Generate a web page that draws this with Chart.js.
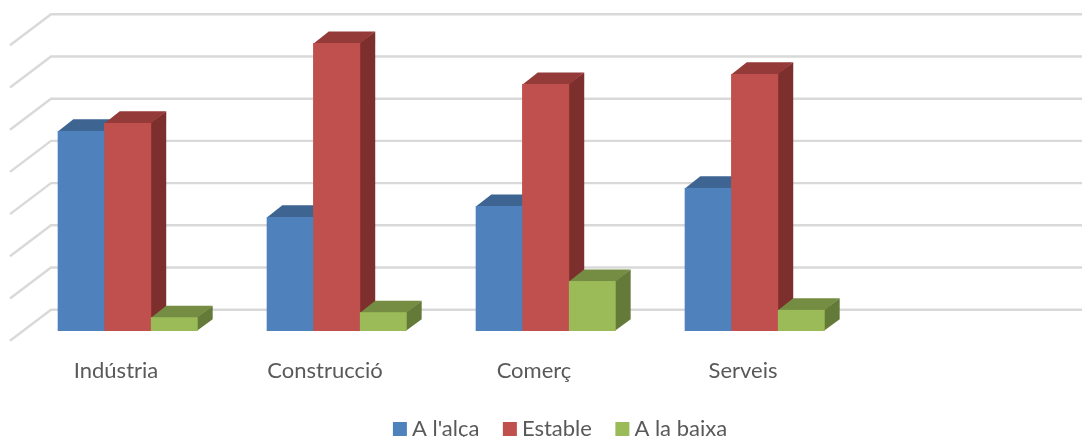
<!DOCTYPE html>
<html><head><meta charset="utf-8">
<style>html,body{margin:0;padding:0;background:#fff;overflow:hidden}canvas{display:block;filter:blur(0.4px)}</style>
<script src="https://cdn.jsdelivr.net/npm/chart.js@4"></script>
</head><body>
<canvas id="c" width="1082" height="437"></canvas>
<script>
const categories = ["Indústria","Construcció","Comerç","Serveis",""];
const alAlca = [47.4,27.0,29.6,33.9];
const estable = [49.3,68.2,58.5,60.9];
const aLaBaixa = [3.2,4.4,11.8,5.0];
const yTicks = {min:0,max:70,step:10};

const front = ["#4F81BD","#C0504D","#9BBB59"];
const top3d = ["#3E6592","#943A38","#758D43"];
const side3d = ["#355780","#7D2F2D","#647A39"];
const depth = {dx:15.5,dy:-11.7};
const wall = {dx:0,dy:-21.3,x0:51,xSide:10,sideDy:31,color:"#D9D9D9",w:2.4};

const threeD = {
  id:"threeD",
  afterLayout(chart){
    const l = chart.legend;
    l.left += 17.5; l.right += 17.5; l.top += 13; l.bottom += 13;
    chart.scales.x.bottom += 20;
  },
  beforeDatasetsDraw(chart){
    const ctx = chart.ctx, y = chart.scales.y;
    ctx.save();
    ctx.strokeStyle = wall.color; ctx.lineWidth = wall.w;
    y.ticks.forEach(t=>{
      const py = y.getPixelForValue(t.value)+wall.dy;
      ctx.beginPath();
      ctx.moveTo(wall.xSide,py+wall.sideDy);
      ctx.lineTo(wall.x0,py);
      ctx.lineTo(chart.width,py);
      ctx.stroke();
    });
    chart.data.datasets.forEach((ds,i)=>{
      chart.getDatasetMeta(i).data.forEach(b=>{
        const p = b.getProps(["x","y","base","width"],true);
        const l=p.x-p.width/2, r=p.x+p.width/2, t=p.y, bt=p.base;
        ctx.fillStyle = side3d[i];
        ctx.beginPath();
        ctx.moveTo(r-0.5,t);ctx.lineTo(r+depth.dx,t+depth.dy);ctx.lineTo(r+depth.dx,bt+depth.dy);ctx.lineTo(r-0.5,bt);ctx.closePath();ctx.fill();
        ctx.fillStyle = top3d[i];
        ctx.beginPath();
        ctx.moveTo(l,t+0.5);ctx.lineTo(l+depth.dx,t+depth.dy);ctx.lineTo(r+depth.dx,t+depth.dy);ctx.lineTo(r,t+0.5);ctx.closePath();ctx.fill();
        ctx.fillStyle = front[i];
        ctx.fillRect(l,t,p.width+0.5,bt-t);
      });
    });
    ctx.restore();
  }
};

new Chart(document.getElementById("c"),{
  type:"bar",
  data:{labels:categories,datasets:[
    {label:"A l'alça",data:alAlca,backgroundColor:front[0]},
    {label:"Estable",data:estable,backgroundColor:front[1]},
    {label:"A la baixa",data:aLaBaixa,backgroundColor:front[2]}
  ]},
  options:{
    responsive:false,animation:false,devicePixelRatio:1,
    categoryPercentage:0.6667,barPercentage:1,
    layout:{padding:{left:23,right:14,top:35.6,bottom:0}},
    plugins:{
      tooltip:{enabled:false},
      legend:{position:"bottom",labels:{
        boxWidth:2,boxHeight:2,padding:29.5,color:"#595959",
        font:{family:"Lato",size:22},
        generateLabels(chart){
          return chart.data.datasets.map((d,i)=>({
            text:d.label,datasetIndex:i,fontColor:"#595959",
            fillStyle:front[i],strokeStyle:front[i],lineWidth:12,lineJoin:"miter"
          }));
        }
      }}
    },
    scales:{
      x:{grid:{display:false,drawTicks:false},border:{display:false},
        afterFit(s){s.height=44.5;},
        ticks:{padding:27,labelOffset:-11.5,color:"#595959",autoSkip:false,maxRotation:0,
          font:{family:"Lato",size:22}}},
      y:{display:false,min:yTicks.min,max:yTicks.max,ticks:{stepSize:yTicks.step}}
    }
  },
  plugins:[threeD]
});
</script>
</body></html>
